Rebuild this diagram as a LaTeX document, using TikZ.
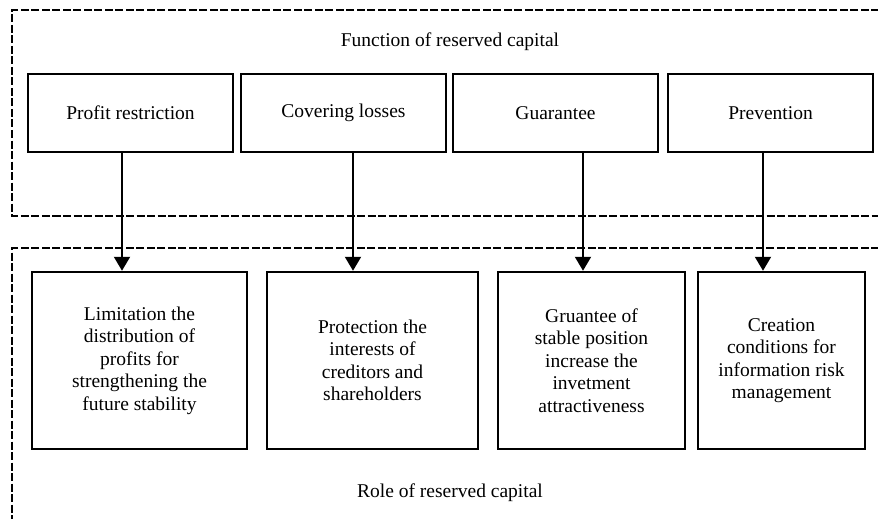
\documentclass[tikz,border=0pt]{standalone}
\usepackage{fontspec}
\setmainfont{Liberation Serif}
\usetikzlibrary{arrows.meta}
\tikzset{
  frame/.style={draw=black, line width=2pt, dash pattern=on 8pt off 2.5pt},
  fbox/.style={draw=black, line width=2.5pt, minimum height=78pt, minimum width=205pt, inner sep=0pt, align=center},
  rbox/.style={draw=black, line width=2.5pt, minimum height=177pt, inner sep=0pt, align=center},
  link/.style={line width=2pt, -{Triangle[width=16pt,length=14pt]}},
  lbl/.style={inner sep=0pt}
}
\begin{document}
\begin{tikzpicture}[x=1pt,y=-1pt,font=\fontsize{19.5}{22.5}\selectfont]
\clip (0,0) rectangle (878,519);
\fill[white] (0,0) rectangle (878,519);
% frames
\draw[frame] (900,10) -- (12,10) -- (12,215.5) -- (900,215.5);
\draw[frame] (900,248) -- (12,248) -- (12,540);
\node[lbl] (ft) at (450,42) {Function of reserved capital};
\node[lbl] (rt) at (450,493) {Role of reserved capital};
% function boxes
\node[fbox] (p1) at (130.5,113) {Profit restriction};
\node[fbox] (p2) at (343.5,113) {Covering losses};
\node[fbox] (p3) at (555.5,113) {Guarantee};
\node[fbox] (p4) at (770.5,113) {Prevention};
% role boxes
\node[rbox, minimum width=215pt] (r1) at (139.5,360.5) {Limitation the\\distribution of\\profits for\\strengthening the\\future stability};
\node[rbox, minimum width=211pt] (r2) at (372.5,360.5) {Protection the\\interests of\\creditors and\\shareholders};
\node[rbox, minimum width=187pt] (r3) at (591.5,360.5) {Gruantee of\\stable position\\increase the\\invetment\\attractiveness};
\node[rbox, minimum width=167pt] (r4) at (781.5,360.5) {Creation\\conditions for\\information risk\\management};
% arrow x positions
\coordinate (a1) at (122,0);
\coordinate (a2) at (353,0);
\coordinate (a3) at (583,0);
\coordinate (a4) at (763,0);
\draw[link] (p1.south -| a1) -- (r1.north -| a1);
\draw[link] (p2.south -| a2) -- (r2.north -| a2);
\draw[link] (p3.south -| a3) -- (r3.north -| a3);
\draw[link] (p4.south -| a4) -- (r4.north -| a4);
\end{tikzpicture}
\end{document}
